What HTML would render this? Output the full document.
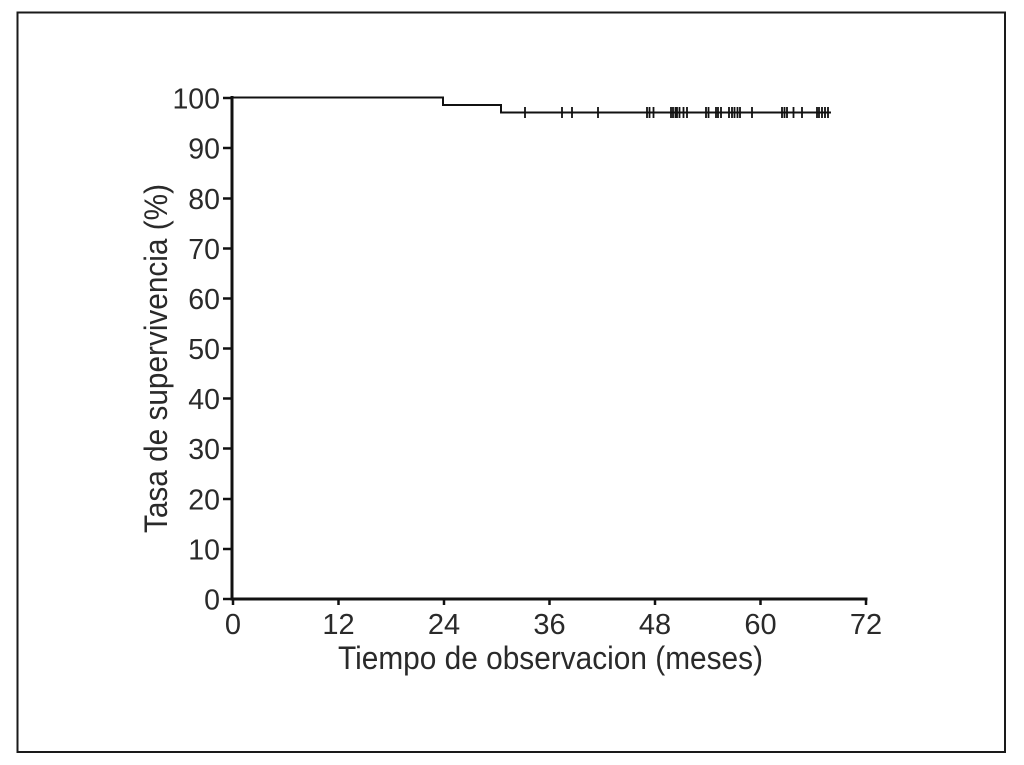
<!DOCTYPE html>
<html>
<head>
<meta charset="utf-8">
<style>
  html, body { margin:0; padding:0; background:#fff; }
  svg { display:block; }
  text { font-family: "Liberation Sans", "DejaVu Sans", sans-serif; fill:#2a2a2a; }
</style>
</head>
<body>
<svg width="1024" height="765" viewBox="0 0 1024 765" xmlns="http://www.w3.org/2000/svg">
  <rect x="0" y="0" width="1024" height="765" fill="#fff"/>
  <!-- frame -->
  <rect x="17.5" y="12.5" width="987.5" height="739.5" fill="none" stroke="#1a1a1a" stroke-width="2"/>

  <!-- axes -->
  <line x1="232" y1="96" x2="232" y2="600.5" stroke="#111" stroke-width="3"/>
  <line x1="230.5" y1="599" x2="867.5" y2="599" stroke="#111" stroke-width="3"/>

  <!-- y ticks -->
  <g stroke="#111" stroke-width="2.5">
    <line x1="223" y1="98" x2="232" y2="98"/>
    <line x1="223" y1="148" x2="232" y2="148"/>
    <line x1="223" y1="198.5" x2="232" y2="198.5"/>
    <line x1="223" y1="248.5" x2="232" y2="248.5"/>
    <line x1="223" y1="298.5" x2="232" y2="298.5"/>
    <line x1="223" y1="348.5" x2="232" y2="348.5"/>
    <line x1="223" y1="398.5" x2="232" y2="398.5"/>
    <line x1="223" y1="448.5" x2="232" y2="448.5"/>
    <line x1="223" y1="499" x2="232" y2="499"/>
    <line x1="223" y1="549" x2="232" y2="549"/>
    <line x1="223" y1="599" x2="232" y2="599"/>
  </g>
  <!-- x ticks -->
  <g stroke="#111" stroke-width="2.5">
    <line x1="233" y1="599" x2="233" y2="605"/>
    <line x1="338.5" y1="599" x2="338.5" y2="605"/>
    <line x1="444" y1="599" x2="444" y2="605"/>
    <line x1="549.5" y1="599" x2="549.5" y2="605"/>
    <line x1="655" y1="599" x2="655" y2="605"/>
    <line x1="760.5" y1="599" x2="760.5" y2="605"/>
    <line x1="866" y1="599" x2="866" y2="605"/>
  </g>

  <!-- y tick labels -->
  <g font-size="28.5" text-anchor="end">
    <text x="220" y="108.5">100</text>
    <text x="220" y="158.5">90</text>
    <text x="220" y="209">80</text>
    <text x="220" y="259">70</text>
    <text x="220" y="309">60</text>
    <text x="220" y="359">50</text>
    <text x="220" y="409">40</text>
    <text x="220" y="459">30</text>
    <text x="220" y="509.5">20</text>
    <text x="220" y="559.5">10</text>
    <text x="220" y="609.5">0</text>
  </g>
  <!-- x tick labels -->
  <g font-size="29" text-anchor="middle">
    <text x="233" y="634">0</text>
    <text x="338.5" y="634">12</text>
    <text x="444" y="634">24</text>
    <text x="549.5" y="634">36</text>
    <text x="655" y="634">48</text>
    <text x="760.5" y="634">60</text>
    <text x="866" y="634">72</text>
  </g>

  <!-- axis titles -->
  <text x="338" y="669" font-size="32" textLength="425" lengthAdjust="spacingAndGlyphs">Tiempo de observacion (meses)</text>
  <text transform="translate(167,358.5) rotate(-90)" x="0" y="0" font-size="32" text-anchor="middle" textLength="349" lengthAdjust="spacingAndGlyphs">Tasa de supervivencia (%)</text>

  <!-- survival curve -->
  <path d="M233,97.5 H443 V105 H501 V112.5 H831" fill="none" stroke="#111" stroke-width="2"/>

  <!-- censor marks -->
  <g stroke="#111" stroke-width="1.8">
    <line x1="525" y1="107" x2="525" y2="118"/>
    <line x1="562" y1="107" x2="562" y2="118"/>
    <line x1="572" y1="107" x2="572" y2="118"/>
    <line x1="598" y1="107" x2="598" y2="118"/>
    <line x1="647" y1="107" x2="647" y2="118"/>
    <line x1="649.5" y1="107" x2="649.5" y2="118"/>
    <line x1="653.5" y1="107" x2="653.5" y2="118"/>
    <line x1="671" y1="107" x2="671" y2="118"/>
    <line x1="673" y1="107" x2="673" y2="118"/>
    <line x1="675.5" y1="107" x2="675.5" y2="118"/>
    <line x1="677" y1="107" x2="677" y2="118"/>
    <line x1="679.5" y1="107" x2="679.5" y2="118"/>
    <line x1="683.5" y1="107" x2="683.5" y2="118"/>
    <line x1="687" y1="107" x2="687" y2="118"/>
    <line x1="706" y1="107" x2="706" y2="118"/>
    <line x1="708.5" y1="107" x2="708.5" y2="118"/>
    <line x1="716" y1="107" x2="716" y2="118"/>
    <line x1="718" y1="107" x2="718" y2="118"/>
    <line x1="721" y1="107" x2="721" y2="118"/>
    <line x1="729" y1="107" x2="729" y2="118"/>
    <line x1="732" y1="107" x2="732" y2="118"/>
    <line x1="734.5" y1="107" x2="734.5" y2="118"/>
    <line x1="737.5" y1="107" x2="737.5" y2="118"/>
    <line x1="740" y1="107" x2="740" y2="118"/>
    <line x1="752" y1="107" x2="752" y2="118"/>
    <line x1="782" y1="107" x2="782" y2="118"/>
    <line x1="784.5" y1="107" x2="784.5" y2="118"/>
    <line x1="787" y1="107" x2="787" y2="118"/>
    <line x1="793.5" y1="107" x2="793.5" y2="118"/>
    <line x1="802" y1="107" x2="802" y2="118"/>
    <line x1="817" y1="107" x2="817" y2="118"/>
    <line x1="819" y1="107" x2="819" y2="118"/>
    <line x1="822" y1="107" x2="822" y2="118"/>
    <line x1="825" y1="107" x2="825" y2="118"/>
    <line x1="828" y1="107" x2="828" y2="118"/>
  </g>
</svg>
</body>
</html>
